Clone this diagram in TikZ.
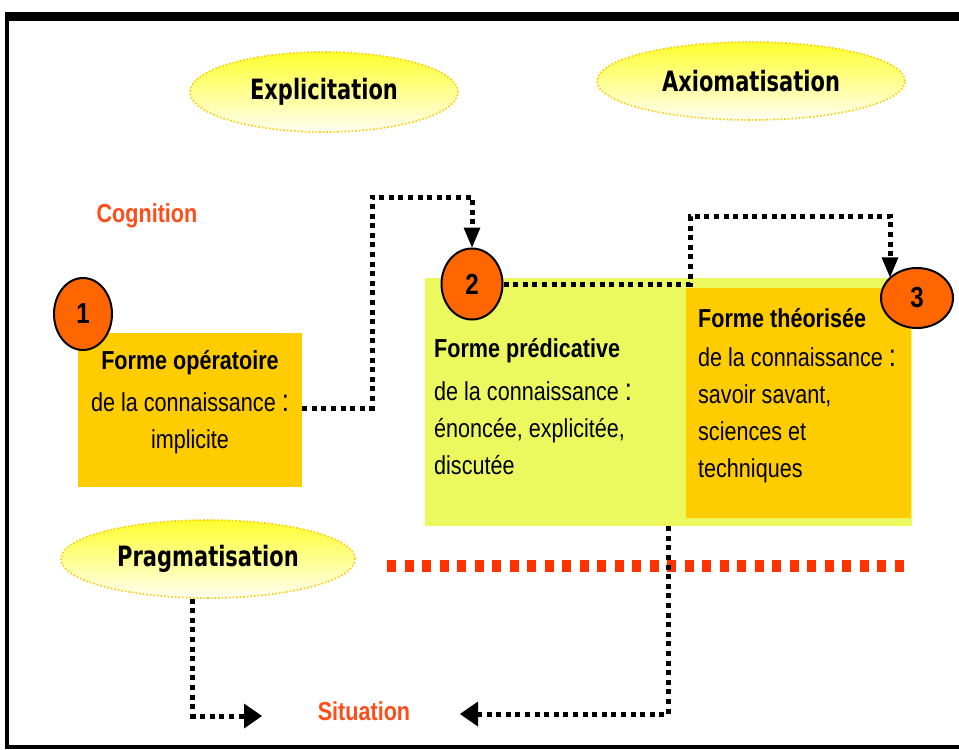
\documentclass[tikz,border=0pt]{standalone}
\usepackage{fontspec}
\setmainfont[FakeStretch=0.83]{Liberation Sans}
\newfontfamily\bubblefont[FakeStretch=0.75]{DejaVu Sans}
\usetikzlibrary{calc,arrows.meta,shapes.geometric}

\definecolor{boxorange}{HTML}{FFCC00}
\definecolor{boxlime}{HTML}{EBF85E}
\definecolor{stageorange}{HTML}{FF6600}
\definecolor{labelred}{HTML}{FF4D1A}
\definecolor{linered}{HTML}{FF3300}
\definecolor{bubbletop}{HTML}{FFFF2E}
\definecolor{bubblebottom}{HTML}{FFFFF2}

\newcommand{\bigcolon}{{\fontsize{31}{31}\selectfont :}}

\tikzset{
	bubble/.style={ellipse, draw=boxorange, line width=1.6pt, dotted, top color=bubbletop, bottom color=bubblebottom, inner sep=0pt, font=\bubblefont\bfseries\fontsize{28}{28}\selectfont},
	stage/.style={ellipse, draw=black, line width=2pt, fill=stageorange, inner sep=0pt, font=\bfseries\fontsize{29}{29}\selectfont},
	formbox/.style={rectangle, inner sep=0pt},
	bodytext/.style={inner sep=0pt, font=\fontsize{26}{37}\selectfont},
	redlabel/.style={text=labelred, inner sep=0pt, font=\bfseries\fontsize{26}{26}\selectfont},
	dotline/.style={black, line width=5pt, dash pattern=on 5pt off 4.6pt},
	reddots/.style={linered, line width=12pt, dash pattern=on 9pt off 8.5pt},
	tipnarrow/.style={-{Triangle[length=20pt,width=17pt,line width=0pt]}},
	tipwide/.style={-{Triangle[length=18pt,width=25pt,line width=0pt]}}
}

\begin{document}
\begin{tikzpicture}[x=1pt, y=-1pt]
			%%%%% START %%%%%
			\useasboundingbox (0,0) rectangle (959,750);
			
			% frame
			\fill[black] (5,12) rectangle (959,21);
			\fill[black] (5,12) rectangle (9,749);
			\fill[black] (5,745) rectangle (959,749);
			
			% bubbles
			\node[bubble, minimum width=268pt, minimum height=80pt] (expl) at (324,92) {Explicitation};
			\node[bubble, minimum width=308pt, minimum height=78pt] (axio) at (751,81) {Axiomatisation};
			\node[bubble, minimum width=294pt, minimum height=78pt] (prag) at (208,559) {Pragmatisation};
			
			% forms of knowledge
			\node[formbox, fill=boxlime, minimum width=487pt, minimum height=248pt] (pred) at (668.5,402) {};
			\node[formbox, fill=boxorange, minimum width=225pt, minimum height=230pt] (theo) at (798.5,403) {};
			\node[formbox, fill=boxorange, minimum width=224pt, minimum height=154pt] (oper) at (190,410) {};
			
			\node[bodytext, align=center, anchor=north] (opertxt) at (190,350) {\textbf{Forme opératoire}\\[5pt]de la connaissance \bigcolon\\implicite};
			\node[bodytext, align=left, anchor=north west] (predtxt) at (434,338.5) {\textbf{Forme prédicative}\\[6pt]de la connaissance \bigcolon\\énoncée, explicitée,\\discutée};
			\node[bodytext, align=left, anchor=north west] (theotxt) at (698,308) {\textbf{Forme théorisée}\\[2pt]de la connaissance \bigcolon\\savoir savant,\\sciences et\\techniques};
			
			\node[redlabel] (cogn) at (147,216) {Cognition};
			\node[redlabel] (situ) at (364,711) {Situation};
			
			% stages
			\node[stage, minimum width=58pt, minimum height=72pt] (st1) at (83,314) {1};
			\node[stage, minimum width=61pt, minimum height=71pt] (st2) at (472,284) {2};
			\node[stage, minimum width=72pt, minimum height=60pt] (st3) at (917,298) {3};
			
			% separator
			\coordinate (redL) at (387,566);
			\coordinate (redR) at (905,566);
			\draw[reddots] (redL) -- (redR);
			
			% connectors
			\coordinate (bendA) at (372,408);
			\coordinate (topA) at (472,197);
			\draw[dotline, tipnarrow] (oper.east |- bendA) -- (bendA) |- (topA) -- (st2.north);
			
			\coordinate (bendB) at (690,285);
			\coordinate (topB) at (890,216);
			\draw[dotline, tipnarrow] (st2.east) -- (st2.east -| bendB) |- (topB) -- (topB |- st3.143);
			
			\coordinate (endC) at (460,714);
			\draw[dotline, tipwide] (pred.south) |- (endC);
			
			\coordinate (endD) at (262,716);
			\draw[dotline, tipwide] (prag.249) |- (endD);
			
			%%%%% END %%%%%
\end{tikzpicture}
\end{document}
